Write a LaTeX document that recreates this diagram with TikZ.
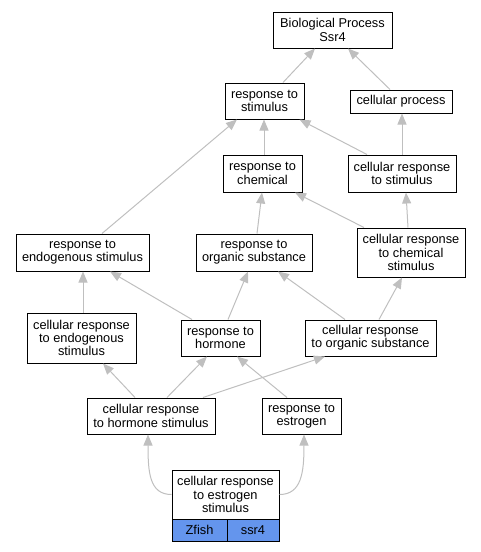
\documentclass[tikz,border=0pt]{standalone}
\usepackage{fontspec}
\setmainfont{Liberation Sans}
\usetikzlibrary{arrows.meta,calc}
\definecolor{cellblue}{HTML}{6495ED}
\begin{document}
\begin{tikzpicture}[x=1pt,y=-1pt,
 box/.style={draw=black,line width=1pt,fill=white,align=center,inner sep=0pt,font=\fontsize{12.8}{13.3}\selectfont},
 cell/.style={box,fill=cellblue},
 edge/.style={draw=black!25,line width=1pt,-{Triangle[length=11pt,width=9pt]}}]
\useasboundingbox (0,0) rectangle (480,552);
\node[box,minimum width=119,minimum height=36] (bp) at (332.5,30) {Biological Process\\Ssr4};
\node[box,minimum width=79,minimum height=36] (rts) at (264.5,101) {response to\\stimulus};
\node[box,minimum width=102,minimum height=23] (cp) at (401,101.5) {cellular process};
\node[box,minimum width=79,minimum height=37] (rtc) at (262.5,173.5) {response to\\chemical};
\node[box,minimum width=108,minimum height=37] (crts) at (402,173.5) {cellular response\\to stimulus};
\node[box,minimum width=133,minimum height=37] (rtes) at (82.5,252.5) {response to\\endogenous stimulus};
\node[box,minimum width=116,minimum height=37] (rtos) at (254,252.5) {response to\\organic substance};
\node[box,minimum width=108,minimum height=49] (crcs) at (411,252.5) {cellular response\\to chemical\\stimulus};
\node[box,minimum width=109,minimum height=50] (crtes) at (81.5,338) {cellular response\\to endogenous\\stimulus};
\node[box,minimum width=79,minimum height=36] (rth) at (220.5,338) {response to\\hormone};
\node[box,minimum width=131,minimum height=36] (crtos) at (370.5,338) {cellular response\\to organic substance};
\node[box,minimum width=128,minimum height=36] (crths) at (151,416) {cellular response\\to hormone stimulus};
\node[box,minimum width=79,minimum height=36] (rte) at (301.5,416) {response to\\estrogen};
\node[box,minimum width=107,minimum height=49] (est) at (225.5,494.5) {cellular response\\to estrogen\\stimulus};
\node[cell,minimum width=55,minimum height=22] (zf) at (199.5,530) {Zfish};
\node[cell,minimum width=52,minimum height=22] (ss) at (253,530) {ssr4};

\draw[edge] ($(rts.north)+(18.5,0)$) -- ($(bp.south)+(-17.5,0)$);
\draw[edge] ($(cp.north)+(-11,0)$) -- ($(bp.south)+(15.5,0)$);
\draw[edge] ($(rtc.north)+(1.5,0)$) -- ($(rts.south)+(-0.5,0)$);
\draw[edge] ($(crts.north)+(-35,0)$) -- ($(rts.south)+(35,0)$);
\draw[edge] (crts.north) -- ($(cp.south)+(1,0)$);
\draw[edge] ($(rtes.north)+(19.5,0)$) -- ($(rts.south)+(-27.5,0)$);
\draw[edge] ($(rtos.north)+(3,0)$) -- ($(rtc.south)+(-0.5,0)$);
\draw[edge] ($(crcs.north)+(-47,0)$) -- ($(rtc.south)+(32.5,0)$);
\draw[edge] ($(crcs.north)+(-3,0)$) -- ($(crts.south)+(4,0)$);
\draw[edge] ($(crtes.north)+(1.5,0)$) -- ($(rtes.south)+(0.5,0)$);
\draw[edge] ($(rth.north)+(-28.5,0)$) -- ($(rtes.south)+(27.5,0)$);
\draw[edge] ($(rth.north)+(7.5,0)$) -- ($(rtos.south)+(-6,0)$);
\draw[edge] ($(crtos.north)+(-25.5,0)$) -- ($(rtos.south)+(24,0)$);
\draw[edge] ($(crtos.north)+(8.5,0)$) -- ($(crcs.south)+(-9,0)$);
\draw[edge] ($(crths.north)+(-16,0)$) -- ($(crtes.south)+(21.5,0)$);
\draw[edge] ($(crths.north)+(16,0)$) -- ($(rth.south)+(-13.5,0)$);
\draw[edge] ($(crths.north)+(52,0)$) -- ($(crtos.south)+(-45.5,0)$);
\draw[edge] ($(rte.north)+(-14.5,0)$) -- ($(rth.south)+(16.5,0)$);
\draw[edge] (est.west) .. controls +(-22,0) and +(0,38) .. ($(crths.south)+(-3,0)$);
\draw[edge] (est.east) .. controls +(22,0) and +(0,38) .. ($(rte.south)+(2.5,0)$);
\end{tikzpicture}
\end{document}
